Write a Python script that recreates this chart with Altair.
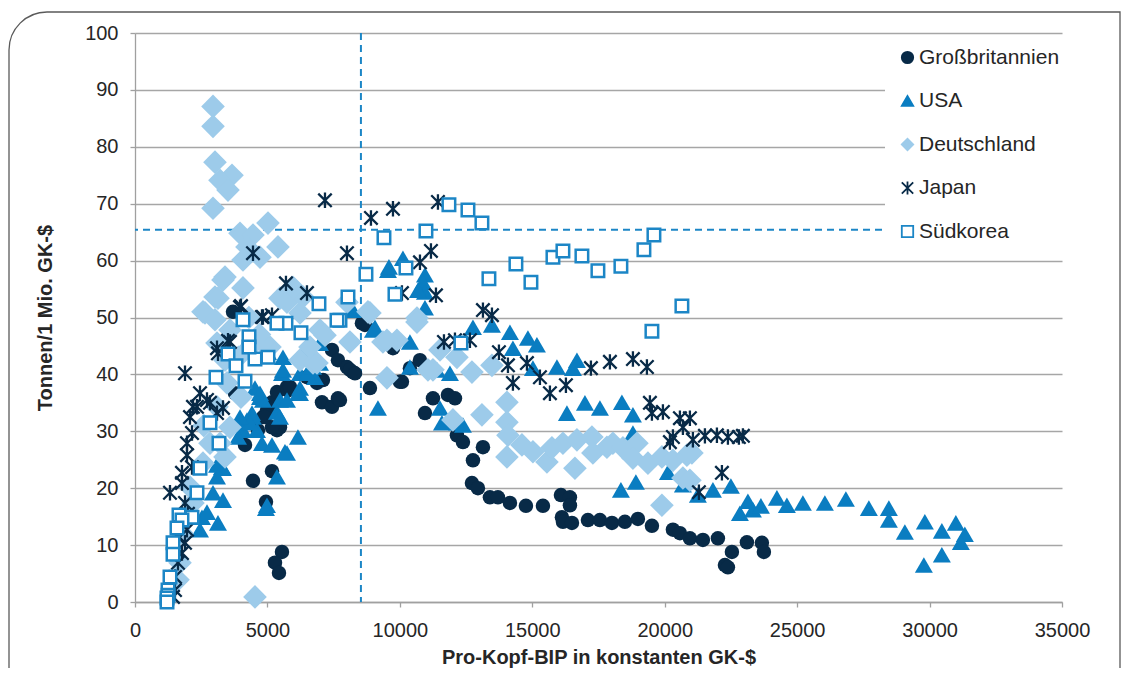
import altair as alt
import pandas as pd

# ---------------- data ----------------
countries = ["Großbritannien", "USA", "Deutschland", "Japan", "Südkorea"]

gb = [(3700, 51.0), (3775, 36.7), (4153, 27.6), (4455, 21.3), (4945, 17.6), (5172, 23.0),
      (5549, 8.8), (5285, 6.9), (5436, 5.1), (5360, 30.2), (5474, 30.7), (4643, 30.2),
      (4833, 32.5), (4983, 33.7), (5172, 30.7), (4908, 32.5), (5172, 35.1), (5360, 36.9),
      (5738, 37.8), (5776, 37.2), (5851, 37.8), (6493, 39.5), (6871, 38.5), (7097, 39.0),
      (7059, 35.1), (7437, 34.3), (7663, 35.8), (7437, 44.3), (7663, 42.5), (8003, 41.3),
      (8229, 40.4), (7739, 35.5), (8116, 40.8), (8305, 40.2), (8871, 37.6), (8682, 48.7),
      (8568, 49.0), (9740, 44.6), (10079, 38.7), (10004, 38.7), (10381, 41.1), (10759, 42.5),
      (10948, 33.2), (11250, 35.8), (11816, 36.4), (12080, 35.8), (12155, 29.3), (12382, 28.1),
      (12760, 24.9), (13137, 27.2), (12722, 20.9), (12948, 20.0), (13401, 18.4), (13703, 18.4),
      (14156, 17.4), (14760, 16.9), (15402, 16.9), (16082, 18.8), (16421, 18.4), (16421, 17.0),
      (16119, 14.9), (16157, 14.1), (16497, 13.9), (17101, 14.4), (17554, 14.4), (18007, 13.9),
      (18497, 14.1), (18988, 14.6), (19517, 13.4), (20310, 12.7), (20574, 12.1), (20951, 11.2),
      (21442, 10.9), (22008, 11.2), (22537, 8.8), (23103, 10.5), (23669, 10.4), (23745, 8.8),
      (22273, 6.5), (22386, 6.1)]

usa = [(2454, 12.7), (2529, 14.9), (2718, 15.8), (2945, 19.2), (3096, 22.0), (3133, 13.9),
       (3322, 17.9), (3284, 23.7), (3096, 24.1), (3322, 23.5), (3851, 31.1), (4077, 30.2),
       (4228, 32.0), (4417, 33.2), (4606, 30.2), (4794, 27.9), (5172, 27.6), (4719, 36.0),
       (4530, 37.6), (5474, 35.5), (4983, 17.0), (4945, 16.5), (5360, 22.0), (5738, 26.2),
       (6153, 29.0), (6229, 36.7), (6229, 40.2), (5549, 40.2), (6795, 39.5), (6984, 42.0),
       (6418, 44.3), (5587, 43.0), (5021, 43.9), (6493, 40.2), (6984, 45.5), (6720, 41.3),
       (5662, 26.4), (4455, 32.5), (4832, 35.5), (5360, 33.4), (5738, 35.5), (6229, 37.6),
       (4719, 36.7), (5587, 40.8), (5474, 32.5), (6153, 36.7), (4341, 31.5), (3964, 32.5),
       (3889, 29.0), (8229, 51.3), (8984, 47.8), (9060, 48.3), (9551, 58.3), (9588, 58.9),
       (10117, 60.4), (10948, 57.5), (10872, 56.2), (10948, 54.5), (10683, 54.8), (10948, 51.7),
       (10381, 45.7), (10381, 41.3), (11400, 40.8), (9173, 34.1), (11514, 34.1), (11589, 31.5),
       (12382, 31.1), (12155, 31.5), (11891, 40.2), (12760, 48.3), (13477, 48.7), (14156, 47.4),
       (14269, 44.6), (14835, 46.4), (15175, 45.2), (15025, 41.1), (15931, 41.3), (16535, 41.1),
       (16686, 42.5), (16308, 33.2), (16988, 35.0), (17554, 34.1), (18384, 35.1), (18800, 32.9),
       (18800, 29.7), (18346, 19.7), (18912, 21.1), (20121, 22.8), (20687, 20.6), (21253, 18.8),
       (21820, 19.7), (22499, 20.4), (22839, 15.6), (23141, 17.7), (23330, 16.2), (23632, 16.9),
       (24236, 18.3), (24613, 17.0), (25217, 17.4), (26047, 17.4), (26840, 18.1), (27708, 16.5),
       (28463, 16.5), (28463, 14.4), (29067, 12.3), (29822, 14.1), (30464, 12.5), (30992, 13.9),
       (31332, 11.9), (31181, 10.5), (30464, 8.3), (29784, 6.5)]

de = [(2945, 87.1), (2945, 83.6), (3020, 77.3), (3662, 75.0), (3209, 74.1), (3511, 72.4),
      (2945, 69.2), (5021, 66.6), (3964, 64.8), (4455, 64.5), (5398, 62.4), (4228, 62.4),
      (4077, 60.1), (4719, 60.6), (3322, 56.6), (4077, 55.2), (3020, 53.6), (2643, 50.8),
      (5851, 53.4), (6229, 50.8), (3398, 57.1), (3133, 53.4), (2567, 51.0), (3020, 49.6),
      (3586, 47.8), (3096, 45.5), (3398, 42.5), (5474, 53.4), (5096, 44.8), (6229, 42.5),
      (8003, 52.7), (6984, 47.8), (6720, 42.0), (3473, 38.5), (3096, 34.3), (3586, 30.7),
      (2831, 27.9), (3209, 27.9), (2567, 24.4), (2076, 20.2), (2189, 17.4), (1963, 14.9),
      (1774, 12.1), (1699, 6.9), (1623, 3.9), (4530, 0.9), (3398, 25.5), (6871, 42.0),
      (5738, 52.7), (6606, 44.8), (7173, 46.9), (4832, 45.5), (4341, 44.8), (6342, 53.6),
      (5964, 55.3), (4300, 50.0), (4700, 47.0), (3900, 43.0), (4000, 36.0), (2600, 31.0),
      (8116, 45.7), (8795, 51.0), (9362, 45.7), (9513, 39.4), (9890, 46.0), (10646, 49.9),
      (11250, 40.8), (12155, 43.0), (12722, 40.4), (12004, 32.0), (8871, 50.8), (10646, 49.2),
      (9513, 46.0), (11061, 40.8), (13477, 41.6), (11514, 44.3), (13099, 32.9), (14043, 35.1),
      (14043, 31.6), (14081, 29.3), (14043, 25.5), (14609, 27.6), (15025, 26.4), (15553, 24.6),
      (15742, 27.1), (16157, 27.9), (16686, 28.5), (16610, 23.5), (17252, 29.0), (17289, 26.2),
      (17818, 27.2), (18044, 27.9), (18422, 27.1), (18951, 27.9), (18800, 25.3), (19366, 24.4),
      (19894, 25.5), (20310, 24.9), (20838, 25.8), (20687, 21.8), (19894, 17.0), (21027, 26.2),
      (20951, 21.4)]

jp = [(7173, 70.6), (8909, 67.5), (9740, 69.1), (11438, 70.3), (4455, 61.3), (8003, 61.3),
      (10759, 59.7), (11174, 61.7), (5700, 56.0), (6493, 54.3), (10079, 54.3), (11363, 53.9),
      (4002, 52.0), (4794, 50.1), (5172, 50.4), (13137, 51.3), (13477, 50.4), (3511, 45.9),
      (3096, 44.6), (11665, 45.7), (12080, 46.0), (12646, 46.0), (13741, 43.9), (14081, 41.6),
      (14798, 42.0), (15289, 39.5), (14269, 38.5), (15666, 36.7), (16270, 38.1), (17214, 41.1),
      (17931, 42.2), (18800, 42.7), (19328, 41.3), (19441, 35.0), (19517, 33.2), (19932, 33.4),
      (20574, 32.3), (20951, 32.3), (20310, 29.0), (20687, 30.7), (21064, 28.5), (21518, 29.2),
      (21971, 29.3), (22386, 29.0), (22801, 29.0), (22952, 29.2), (22160, 22.7), (21291, 19.3),
      (20196, 28.1), (1888, 40.2), (2454, 36.7), (2189, 34.3), (2831, 35.0), (3322, 34.1),
      (3096, 33.2), (2076, 32.5), (2152, 29.7), (1963, 27.9), (1963, 25.8), (2152, 23.7),
      (1774, 22.7), (1774, 20.9), (1321, 19.2), (1888, 17.4), (2000, 15.5), (1963, 12.7),
      (1600, 11.5), (1888, 10.4), (1774, 8.6), (1623, 6.9), (1510, 4.4), (1510, 2.1),
      (1435, 0.9), (2718, 35.5), (2340, 34.3), (3586, 45.7), (3133, 43.7), (3964, 51.8),
      (4832, 50.1)]

kr = [(11853, 69.8), (12571, 68.9), (13099, 66.6), (9400, 64.0), (10985, 65.2), (8720, 57.6),
      (10230, 58.7), (9815, 54.1), (8041, 53.6), (7739, 49.5), (13363, 56.8), (14382, 59.4),
      (14949, 56.2), (15780, 60.6), (16157, 61.7), (16874, 60.8), (17478, 58.2), (18346, 59.0),
      (19215, 61.9), (19593, 64.5), (20649, 52.0), (19517, 47.6), (12307, 45.5), (6946, 52.4),
      (7626, 49.5), (6266, 47.3), (5700, 49.0), (5360, 49.0), (5021, 43.0), (4530, 42.7),
      (4077, 49.6), (4304, 46.6), (4304, 44.8), (3511, 43.6), (3813, 41.5), (4153, 38.8),
      (3058, 39.5), (2831, 31.5), (3171, 27.9), (2454, 23.5), (2340, 19.2), (2152, 14.9),
      (1661, 15.3), (1774, 14.4), (1585, 13.0), (1435, 10.4), (1435, 8.4), (1321, 4.4),
      (1246, 2.1), (1250, 1.2), (1208, 0.7), (1208, 0.0)]

x_ticks = [0, 5000, 10000, 15000, 20000, 25000, 30000, 35000]
y_ticks = [0, 10, 20, 30, 40, 50, 60, 70, 80, 90, 100]
ref_x = 8530    # vertical dashed reference line
ref_y = 65.4    # horizontal dashed reference line

# ---------------- marker styling per series ----------------
asterisk = "M-1,-1L1,1M-1,1L1,-1M0,-1.15L0,1.15"
navy = "#082a47"
mid = "#0a7dc1"
light = "#9dcbea"
kblue = "#1c86c6"
marker_size = {"Großbritannien": 210, "USA": 324, "Deutschland": 560, "Japan": 180, "Südkorea": 156}
marker_stroke = {"Großbritannien": 0, "USA": 0, "Deutschland": 0, "Japan": 2.3, "Südkorea": 2.5}

# ---------------- build table ----------------
rows = []
for name, pts in zip(countries, [gb, usa, de, jp, kr]):
    for x, y in pts:
        rows.append({"country": name, "bip": x, "t": y,
                     "sz": marker_size[name], "sw": marker_stroke[name]})
df = pd.DataFrame(rows)

xs = alt.Scale(domain=[0, 35000], nice=False)
ys = alt.Scale(domain=[0, 100], nice=False)

legend = alt.Legend(
    title=None, orient="none", legendX=750, legendY=2,
    fillColor="white", padding=12, rowPadding=21.5,
    labelFontSize=21, labelColor="#262626", labelFont="Liberation Sans",
    labelOffset=1, symbolSize=130, symbolStrokeWidth=1.8,
)

frame = alt.Chart(pd.DataFrame({"k": [0]})).mark_rect(
    fillOpacity=0, stroke="#5a5a5a", strokeWidth=1.3, cornerRadiusTopLeft=38
).encode(x=alt.value(-126), x2=alt.value(985), y=alt.value(-21), y2=alt.value(720))

vline = alt.Chart(pd.DataFrame({"v": [ref_x]})).mark_rule(
    color=kblue, strokeDash=[7, 5], strokeWidth=2
).encode(x=alt.X("v:Q", scale=xs))

hline = alt.Chart(pd.DataFrame({"v": [ref_y]})).mark_rule(
    color=kblue, strokeDash=[7, 5], strokeWidth=2
).encode(y=alt.Y("v:Q", scale=ys))

points = alt.Chart(df).mark_point(filled=True, opacity=1).encode(
    x=alt.X("bip:Q", scale=xs, axis=alt.Axis(
        values=x_ticks, format="d", grid=False, title="Pro-Kopf-BIP in konstanten GK-$",
        labelFontSize=20, labelPadding=13, titlePadding=7, titleFontSize=20,
        tickSize=5, labelFlush=False)),
    y=alt.Y("t:Q", scale=ys, axis=alt.Axis(
        values=y_ticks, grid=True, title="Tonnen/1 Mio. GK-$",
        labelFontSize=20, labelPadding=12, titlePadding=29, titleFontSize=20,
        tickSize=5, labelFlush=False)),
    fill=alt.Fill("country:N", scale=alt.Scale(domain=countries,
                  range=[navy, mid, light, navy, "white"]), legend=legend, sort=countries),
    stroke=alt.Stroke("country:N", scale=alt.Scale(domain=countries,
                      range=[navy, mid, light, navy, kblue]), legend=legend, sort=countries),
    shape=alt.Shape("country:N", scale=alt.Scale(domain=countries,
                    range=["circle", "triangle-up", "diamond", asterisk, "square"]),
                    legend=legend, sort=countries),
    size=alt.Size("sz:Q", scale=None),
    strokeWidth=alt.StrokeWidth("sw:Q", scale=None),
)

chart = alt.layer(frame, vline, hline, points).properties(
    width=927, height=569,
    autosize=alt.AutoSizeParams(type="none"),
    padding={"left": 127, "top": 25, "right": 59, "bottom": 66},
).configure(
    font="Liberation Sans",
).configure_view(
    strokeWidth=0
).configure_axis(
    labelColor="#262626", titleColor="#262626", titleFontWeight="bold",
    labelFont="Liberation Sans", titleFont="Liberation Sans",
    domainColor="#a0a0a0", tickColor="#a0a0a0", gridColor="#a6a6a6",
    gridWidth=1.3, domainWidth=1.3, tickWidth=1.3,
)

chart.save("out.html", embed_options={"renderer": "svg", "actions": False})
